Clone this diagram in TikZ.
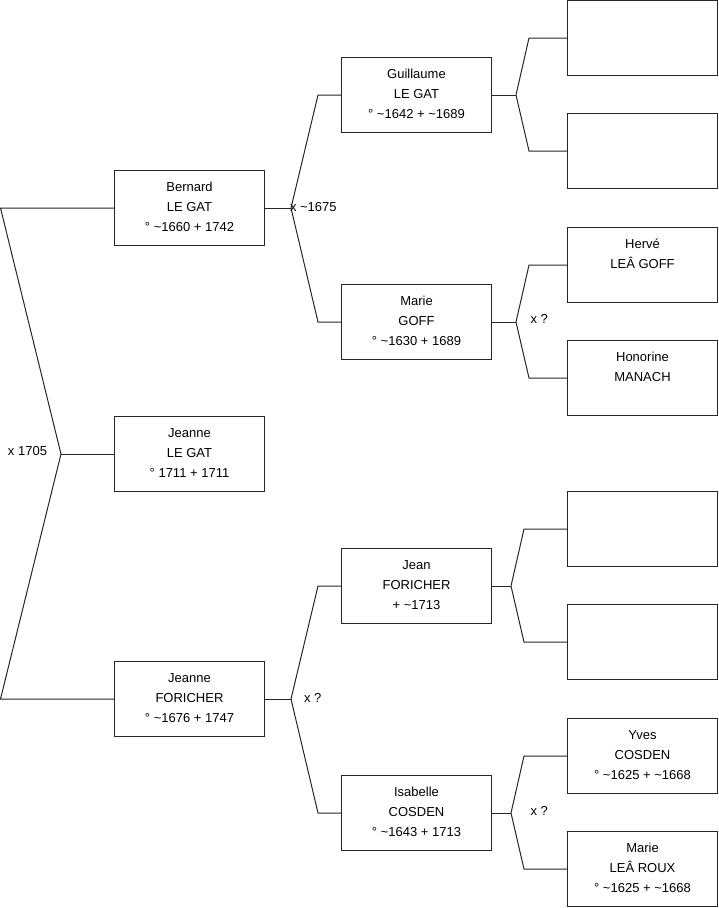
\documentclass[tikz,border=0pt]{standalone}
\usepackage{fontspec}
\setmainfont{Liberation Sans}
\begin{document}
\begin{tikzpicture}[x=1pt,y=-1pt,
  line width=1pt,
  person/.style={draw=black!85, minimum width=150pt, minimum height=75pt, inner sep=0pt},
  ptext/.style={anchor=north, align=center, inner sep=0pt, font=\fontsize{13}{20}\selectfont},
  lbl/.style={anchor=base west, inner sep=0pt, font=\fontsize{13}{16}\selectfont},
  link/.style={draw=black!85, line join=miter}
]
\useasboundingbox (0,0) rectangle (719,908);

% column 1
\node[person] (b1) at (189.5,208) {};
\node[person] (b2) at (189.5,454) {};
\node[person] (b3) at (189.5,699) {};
% column 2
\node[person] (g)  at (416.5,95) {};
\node[person] (m)  at (416.5,322) {};
\node[person] (jf) at (416.5,586) {};
\node[person] (is) at (416.5,813) {};
% column 3
\node[person] (e1) at (642.5,38) {};
\node[person] (e2) at (642.5,151) {};
\node[person] (he) at (642.5,265) {};
\node[person] (ho) at (642.5,378) {};
\node[person] (e3) at (642.5,529) {};
\node[person] (e4) at (642.5,642) {};
\node[person] (yv) at (642.5,756) {};
\node[person] (ma) at (642.5,869) {};

% texts
\node[ptext] (t1) at ([yshift=-7pt]b1.north) {\strut Bernard\\LE GAT\\° \textasciitilde1660 + 1742};
\node[ptext] (t2) at ([yshift=-7pt]b2.north) {\strut Jeanne\\LE GAT\\° 1711 + 1711};
\node[ptext] (t3) at ([yshift=-7pt]b3.north) {\strut Jeanne\\FORICHER\\° \textasciitilde1676 + 1747};
\node[ptext] (t4) at ([yshift=-7pt]g.north) {\strut Guillaume\\LE GAT\\° \textasciitilde1642 + \textasciitilde1689};
\node[ptext] (t5) at ([yshift=-7pt]m.north) {\strut Marie\\GOFF\\° \textasciitilde1630 + 1689};
\node[ptext] (t6) at ([yshift=-7pt]jf.north) {\strut Jean\\FORICHER\\+ \textasciitilde1713};
\node[ptext] (t7) at ([yshift=-7pt]is.north) {\strut Isabelle\\COSDEN\\° \textasciitilde1643 + 1713};
\node[ptext] (t8) at ([yshift=-7pt]he.north) {\strut Hervé\\LEÂ GOFF};
\node[ptext] (t9) at ([yshift=-7pt]ho.north) {\strut Honorine\\MANACH};
\node[ptext] (t10) at ([yshift=-7pt]yv.north) {\strut Yves\\COSDEN\\° \textasciitilde1625 + \textasciitilde1668};
\node[ptext] (t11) at ([yshift=-7pt]ma.north) {\strut Marie\\LEÂ ROUX\\° \textasciitilde1625 + \textasciitilde1668};

% root fork
\coordinate (v0) at (61,454);
\coordinate (a0) at (0.5,208);
\coordinate (c0) at (0.5,699);
\draw[link] (b1.west) -- (a0) -- (v0) -- (c0) -- (b3.west);
\draw[link] (v0) -- (b2.west);

% forks
\coordinate (v1) at (291,208);
\draw[link] (b1.east) -- (v1);
\draw[link] (v1) -- (318,0 |- g.west) -- (g.west);
\draw[link] (v1) -- (318,0 |- m.west) -- (m.west);

\coordinate (v2) at (291,699);
\draw[link] (b3.east) -- (v2);
\draw[link] (v2) -- (318,0 |- jf.west) -- (jf.west);
\draw[link] (v2) -- (318,0 |- is.west) -- (is.west);

\coordinate (v3) at (516,95);
\draw[link] (g.east) -- (v3);
\draw[link] (v3) -- (529,0 |- e1.west) -- (e1.west);
\draw[link] (v3) -- (529,0 |- e2.west) -- (e2.west);

\coordinate (v4) at (516,322);
\draw[link] (m.east) -- (v4);
\draw[link] (v4) -- (529,0 |- he.west) -- (he.west);
\draw[link] (v4) -- (529,0 |- ho.west) -- (ho.west);

\coordinate (v5) at (511,586);
\draw[link] (jf.east) -- (v5);
\draw[link] (v5) -- (524,0 |- e3.west) -- (e3.west);
\draw[link] (v5) -- (524,0 |- e4.west) -- (e4.west);

\coordinate (v6) at (511,813);
\draw[link] (is.east) -- (v6);
\draw[link] (v6) -- (524,0 |- yv.west) -- (yv.west);
\draw[link] (v6) -- (524,0 |- ma.west) -- (ma.west);

% marriage labels
\node[lbl] (m0) at (7.5,455.5) {x 1705};
\node[lbl] (m1) at (289.5,211.5) {x \textasciitilde1675};
\node[lbl] (m2) at (303.5,702) {x ?};
\node[lbl] (m3) at (530,323.5) {x ?};
\node[lbl] (m4) at (530,815) {x ?};
\end{tikzpicture}
\end{document}
